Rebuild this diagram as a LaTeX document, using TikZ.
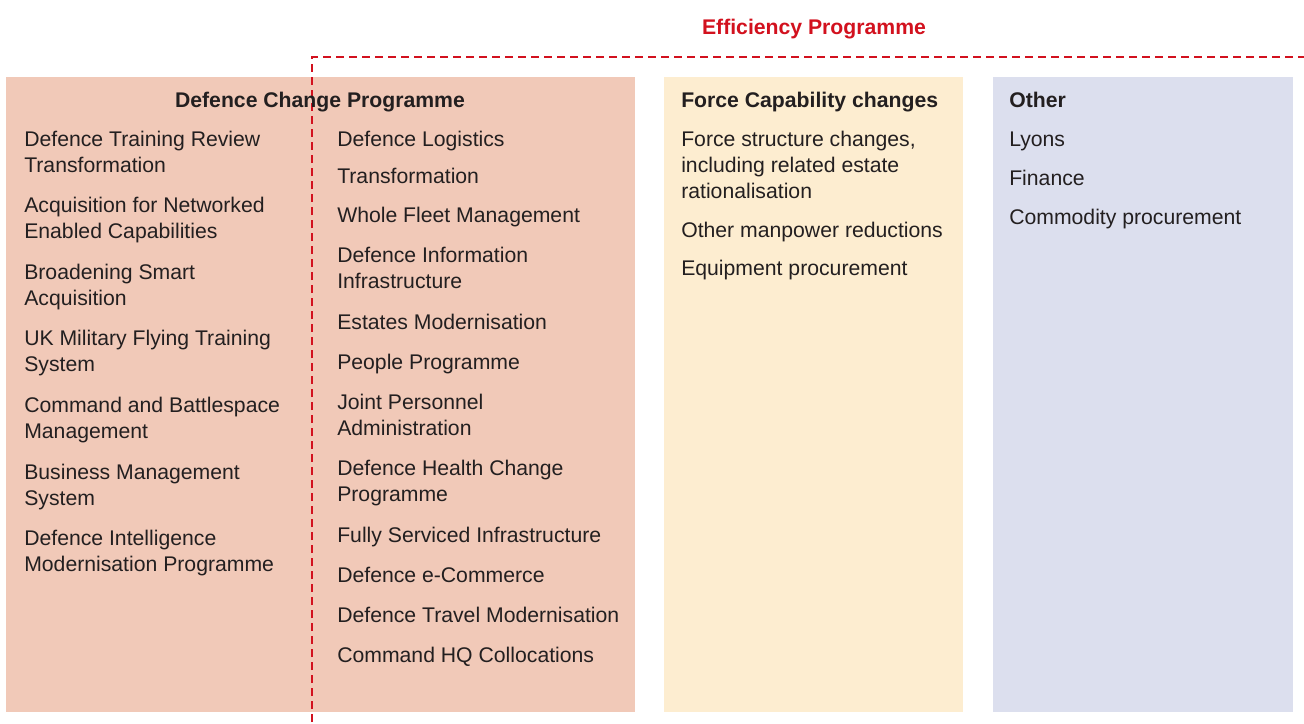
\documentclass[tikz,border=0pt]{standalone}
\usepackage{fontspec}
\setmainfont{Liberation Sans}
\usepackage{tikz}
\definecolor{dcpink}{HTML}{F1C9B8}
\definecolor{fcyellow}{HTML}{FDEDD0}
\definecolor{othblue}{HTML}{DCDFEE}
\definecolor{effred}{HTML}{D2111E}
\definecolor{txtgrey}{HTML}{231F20}
\begin{document}
\begin{tikzpicture}[x=0.75pt,y=-0.75pt,
  item/.style={anchor=north west,yshift=13.65pt,inner sep=0pt,align=left,text=txtgrey,
    font=\fontsize{15.9}{19.5}\selectfont,execute at begin node=\strut},
  mitem/.style={item,yshift=-2.4pt},
  head/.style={anchor=base,inner sep=0pt,text=txtgrey,
    font=\fontsize{15.9}{19.5}\selectfont\bfseries}]
\useasboundingbox (0,0) rectangle (1304,724);
% columns
\fill[dcpink] (6,77) rectangle (635,712);
\fill[fcyellow] (664,77) rectangle (963,712);
\fill[othblue] (993,77) rectangle (1293,712);
% efficiency programme bracket
\node[head,text=effred] (eff) at (814,35) {Efficiency Programme};
\coordinate (effbot) at (312,722);
\coordinate (effcorner) at (312,57);
\coordinate (effend) at (1304,57);
\draw[effred,line width=1.6pt,dash pattern=on 6pt off 3.75pt] (effbot)--(effcorner)--(effend);
% Defence Change Programme
\node[head] (dcp) at (320,108) {Defence Change Programme};
\node[mitem] (dtr) at (24,146) {Defence Training Review\\Transformation};
\node[mitem] (nec) at (24,212) {Acquisition for Networked\\Enabled Capabilities};
\node[mitem] (bsa) at (24,279) {Broadening Smart\\Acquisition};
\node[mitem] (ukmf) at (24,345) {UK Military Flying Training\\System};
\node[mitem] (cbm) at (24,412) {Command and Battlespace\\Management};
\node[mitem] (bms) at (24,479) {Business Management\\System};
\node[mitem] (dimp) at (24,545) {Defence Intelligence\\Modernisation Programme};
\node[item] (dl) at (337,146) {Defence Logistics};
\node[item] (tr) at (337,183) {Transformation};
\node[item] (wfm) at (337,222) {Whole Fleet Management};
\node[mitem] (dii) at (337,262) {Defence Information\\Infrastructure};
\node[item] (em) at (337,329) {Estates Modernisation};
\node[item] (pp) at (337,369) {People Programme};
\node[mitem] (jpa) at (337,409) {Joint Personnel\\Administration};
\node[mitem] (dhc) at (337,475) {Defence Health Change\\Programme};
\node[item] (fsi) at (337,542) {Fully Serviced Infrastructure};
\node[item] (dec) at (337,582) {Defence e-Commerce};
\node[item] (dtm) at (337,622) {Defence Travel Modernisation};
\node[item] (chq) at (337,662) {Command HQ Collocations};
% Force Capability changes
\node[head,anchor=base west] (fcc) at (681,108) {Force Capability changes};
\node[mitem] (fsc) at (681,146) {Force structure changes,\\including related estate\\rationalisation};
\node[item] (omr) at (681,237) {Other manpower reductions};
\node[item] (ep) at (681,275) {Equipment procurement};
% Other
\node[head,anchor=base west] (oth) at (1009,108) {Other};
\node[item] (ly) at (1009,146) {Lyons};
\node[item] (fin) at (1009,185) {Finance};
\node[item] (cp) at (1009,224) {Commodity procurement};
\end{tikzpicture}
\end{document}
